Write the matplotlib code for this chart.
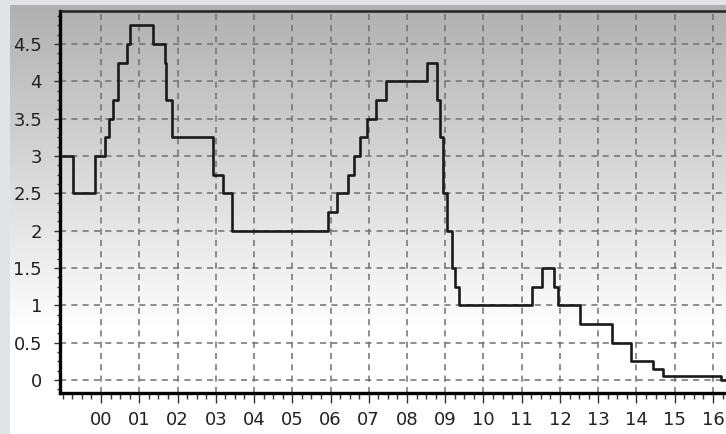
import numpy as np
import pandas as pd
import matplotlib
matplotlib.use("Agg")
import matplotlib.pyplot as plt
from matplotlib.ticker import FixedLocator, MultipleLocator, FuncFormatter

# fechas de cambio y tipo (%)
fechas = ["1999-01-01", "1999-04-09", "1999-11-05", "2000-02-04", "2000-03-17",
          "2000-04-28", "2000-06-09", "2000-09-01", "2000-10-06", "2001-05-11",
          "2001-08-31", "2001-09-18", "2001-11-09", "2002-12-06", "2003-03-07",
          "2003-06-06", "2005-12-06", "2006-03-08", "2006-06-15", "2006-08-09",
          "2006-10-11", "2006-12-13", "2007-03-14", "2007-06-13", "2008-07-09",
          "2008-10-15", "2008-11-12", "2008-12-10", "2009-01-21", "2009-03-11",
          "2009-04-08", "2009-05-13", "2011-04-13", "2011-07-13", "2011-11-09",
          "2011-12-14", "2012-07-11", "2013-05-08", "2013-11-13", "2014-06-11",
          "2014-09-10", "2016-03-16", "2016-06-30"]
tipos = [3.0, 2.5, 3.0, 3.25, 3.5, 3.75, 4.25, 4.5, 4.75, 4.5,
         4.25, 3.75, 3.25, 2.75, 2.5, 2.0, 2.25, 2.5, 2.75, 3.0,
         3.25, 3.5, 3.75, 4.0, 4.25, 3.75, 3.25, 2.5, 2.0, 1.5,
         1.25, 1.0, 1.25, 1.5, 1.25, 1.0, 0.75, 0.5, 0.25, 0.15,
         0.05, 0.0, 0.0]
anios = list(range(2000, 2017))
etiquetas_x = ["%02d" % (a % 100) for a in anios]

d = pd.to_datetime(fechas)
x = d.year + (d.dayofyear - 1) / np.where(d.is_leap_year, 366, 365)

W, H = 726, 434
fig = plt.figure(figsize=(W / 100, H / 100), dpi=100)
fig.patch.set_facecolor("#e1e3e6")

# panel con degradado gris -> blanco
bg = fig.add_axes([10 / W, 0, 1 - 10 / W, 1 - 5 / H])
bg.set_axis_off()
yy = np.linspace(0, 1, 400)
g = np.clip(0.69 + 0.31 * yy / 0.76, 0, 1)
img = np.repeat(g[:, None], 2, axis=1)
bg.imshow(np.dstack([img, img, img]), aspect="auto", extent=[0, 1, 0, 1],
          origin="upper", interpolation="bilinear")
bg.set_xlim(0, 1); bg.set_ylim(0, 1)

ax = fig.add_axes([60 / W, 41 / H, 1 - 60 / W, (393 - 11) / H])
ax.patch.set_alpha(0)
ax.step(x, tipos, where="post", color="#1a1a1a", lw=1.9, zorder=3)

ax.set_xlim(2000 - 41 / 38.25, 2000 + 666 / 38.25 - 41 / 38.25)
ax.set_ylim(-13 / 74.67, 369 / 74.67)

ax.xaxis.set_major_locator(FixedLocator(anios))
ax.xaxis.set_minor_locator(MultipleLocator(0.25))
ax.set_xticklabels(etiquetas_x)
ax.yaxis.set_major_locator(MultipleLocator(0.5))
ax.yaxis.set_minor_locator(MultipleLocator(0.125))
ax.yaxis.set_major_formatter(FuncFormatter(lambda v, p: "%g" % v))

ax.grid(True, which="major", color="#707070", lw=1.1, dashes=(4.0, 3.4))
ax.tick_params(axis="x", which="major", length=7, width=1, color="#333333",
               pad=6, labelsize=13, labelcolor="#222222")
ax.tick_params(axis="x", which="minor", length=4, width=1, color="#333333")
ax.tick_params(axis="y", which="major", length=4, width=1, color="#333333",
               pad=9, labelsize=13, labelcolor="#222222")
ax.tick_params(axis="y", which="minor", length=2, width=1, color="#333333")

ax.spines["left"].set_linewidth(2.4)
ax.spines["bottom"].set_linewidth(2.4)
ax.spines["top"].set_linewidth(1.8)
ax.spines["top"].set_color("#222222")
ax.spines["right"].set_visible(False)

plt.savefig("out.png", dpi=100, facecolor=fig.get_facecolor())
